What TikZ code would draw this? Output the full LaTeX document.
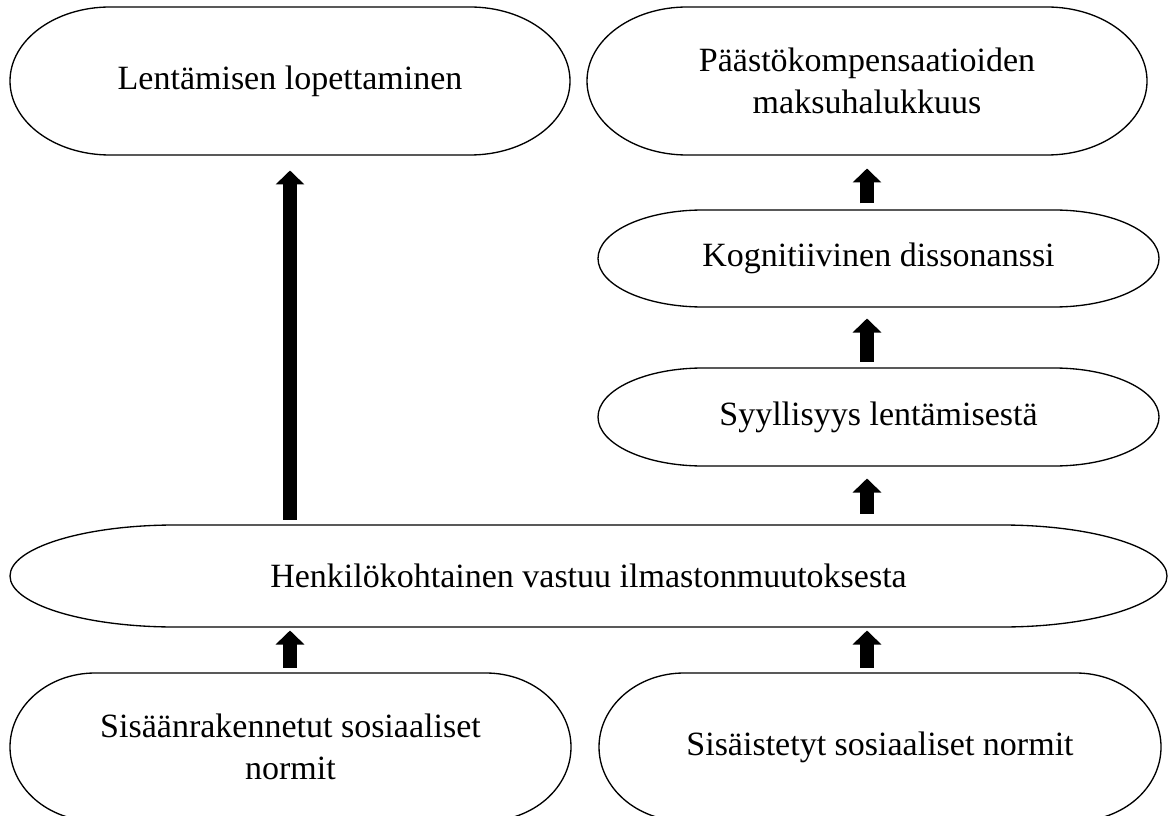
\documentclass[tikz,border=0pt]{standalone}
\usepackage{fontspec}
\setmainfont{Liberation Serif}
\usetikzlibrary{arrows.meta,calc}

\tikzset{every picture/.style={line width=0.75pt}}
\tikzset{
  boxtext/.style={inner sep=0pt, align=center, font=\fontsize{25.5}{31.5}\selectfont},
  boxline/.style={line width=1pt},
  blockarrow/.style={line width=10.5pt, -{Triangle[width=21pt,length=10.5pt]}},
}

% name, centre x, centre y, width, height, end radius, text
\newcommand{\pillnode}[7]{%
  \node[boxtext, minimum width=#4*0.75pt, minimum height=#5*0.75pt] (#1) at (#2,#3) {#7};
  \draw[boxline] (#2-#4/2+#6,#3-#5/2) -- (#2+#4/2-#6,#3-#5/2)
    arc[start angle=-90, end angle=90, x radius=#6, y radius=#5/2]
    -- (#2-#4/2+#6,#3+#5/2)
    arc[start angle=90, end angle=270, x radius=#6, y radius=#5/2] -- cycle;
}

\begin{document}
\begin{tikzpicture}[x=0.75pt,y=0.75pt,yscale=-1,xscale=1]
\useasboundingbox (0,0) rectangle (1169,816);

% Boxes
\pillnode{stop}{290}{81}{560}{148}{100}{Lentämisen lopettaminen}
\pillnode{pay}{867}{81}{560}{148}{100}{Päästökompensaatioiden\\maksuhalukkuus}
\pillnode{dissonance}{878.5}{258.5}{561}{97}{105}{Kognitiivinen dissonanssi}
\pillnode{guilt}{878.5}{417}{561}{98}{105}{Syyllisyys lentämisestä}
\pillnode{resp}{588.5}{576}{1157}{102}{165}{Henkilökohtainen vastuu ilmastonmuutoksesta}
\pillnode{builtin}{290.5}{747}{561}{148}{85}{Sisäänrakennetut sosiaaliset\\normit}
\pillnode{internal}{880}{747}{562}{148}{85}{Sisäistetyt sosiaaliset normit}

% Arrows
\draw[blockarrow] ($(resp.north -| stop.south)+(0,-5)$) -- ($(stop.south)+(0,15)$);
\draw[blockarrow] ($(dissonance.north -| pay.south)+(0,-6)$) -- ($(pay.south)+(0,13)$);
\draw[blockarrow] ($(guilt.north -| pay.south)+(0,-6)$) -- ($(dissonance.south -| pay.south)+(0,11)$);
\draw[blockarrow] ($(resp.north -| pay.south)+(0,-11)$) -- ($(guilt.south -| pay.south)+(0,12)$);
\draw[blockarrow] ($(builtin.north -| stop.south)+(0,-5)$) -- ($(resp.south -| stop.south)+(0,3)$);
\draw[blockarrow] ($(internal.north -| pay.south)+(0,-5)$) -- ($(resp.south -| pay.south)+(0,3)$);

\end{tikzpicture}
\end{document}
